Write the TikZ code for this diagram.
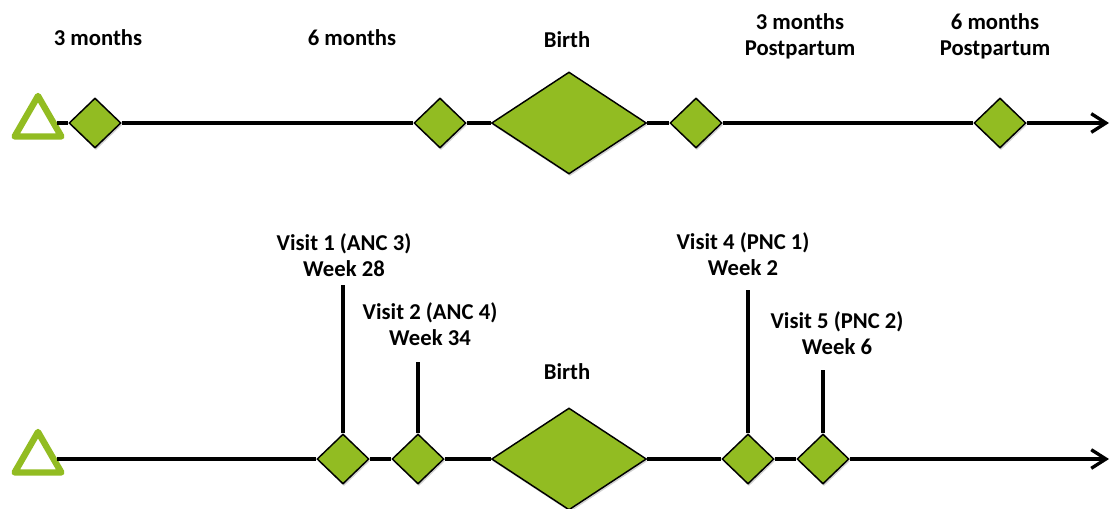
\documentclass[tikz,border=0pt]{standalone}
\usepackage{fontspec}
\setmainfont{Carlito}
\usetikzlibrary{arrows.meta,shapes.geometric,shadows,positioning}
\definecolor{leaf}{RGB}{146,188,34}

\begin{document}
\begin{tikzpicture}[
  x=0.75pt,
  y=-0.75pt,
  axis/.style={line width=2.5pt,black},
  timeline/.style={axis,-{Straight Barb[length=11pt,width=14pt,line width=2.5pt]}},
  stem/.style={line width=2.3pt,black},
  start/.style={
    regular polygon,
    regular polygon sides=3,
    draw=leaf,
    fill=white,
    line width=4.8pt,
    line join=round,
    minimum size=54*0.75pt,
    inner sep=0pt
  },
  visit/.style={
    diamond,
    draw=black,
    fill=leaf,
    line width=1.1pt,
    inner sep=0pt,
    minimum width=52*0.75pt,
    minimum height=50*0.75pt,
    drop shadow={shadow xshift=0.8pt,shadow yshift=-1.6pt,opacity=0.18,fill=black}
  },
  birth/.style={
    visit,
    minimum width=155*0.75pt,
    minimum height=102*0.75pt
  },
  caption/.style={
    font=\bfseries\fontsize{17}{19.5}\selectfont,
    align=center,
    inner sep=0pt
  }
]
\useasboundingbox (0,0) rectangle (1117,508);

% Upper timeline: months
\node[start] (tA) at (38,123) {};
\node[visit] (dA1) at (95,123) {};
\node[visit] (dA2) at (440,123) {};
\node[birth] (bA) at (569,123) {};
\node[visit] (dA3) at (696,123) {};
\node[visit] (dA4) at (1000,123) {};
\coordinate (endA) at (1109,123);

\draw[timeline] (tA) -- (dA1) -- (dA2) -- (bA) -- (dA3) -- (dA4) -- (endA);

% Upper labels
\node[caption] (lA1) at (98,38) {3 months};
\node[caption] (lA2) at (352,38) {6 months};
\node[caption] (lA3) at (567,40) {Birth};
\node[caption] (lA4) at (800,36) {3 months\\Postpartum};
\node[caption] (lA5) at (995,36) {6 months\\Postpartum};

% Lower timeline: visits
\node[start] (tB) at (38,459) {};
\node[visit] (dB1) at (343,459) {};
\node[visit] (dB2) at (418,459) {};
\node[birth] (bB) at (569,459) {};
\node[visit] (dB3) at (748,459) {};
\node[visit] (dB4) at (823,459) {};
\coordinate (endB) at (1109,459);

\draw[timeline] (tB) -- (dB1) -- (dB2) -- (bB) -- (dB3) -- (dB4) -- (endB);

% Stems up to the visit labels
\coordinate (sB1) at (343,285);
\coordinate (sB2) at (418,362);
\coordinate (sB3) at (748,290);
\coordinate (sB4) at (823,370);
\draw[stem] (dB1) -- (sB1);
\draw[stem] (dB2) -- (sB2);
\draw[stem] (dB3) -- (sB3);
\draw[stem] (dB4) -- (sB4);

% Lower labels
\node[caption] (lB1) at (344,255) {Visit 1 (ANC 3)\\Week 28};
\node[caption] (lB2) at (430,324) {Visit 2 (ANC 4)\\Week 34};
\node[caption] (lB3) at (567,372) {Birth};
\node[caption] (lB4) at (743,254) {Visit 4 (PNC 1)\\Week 2};
\node[caption] (lB5) at (837,333) {Visit 5 (PNC 2)\\Week 6};

\end{tikzpicture}
\end{document}
